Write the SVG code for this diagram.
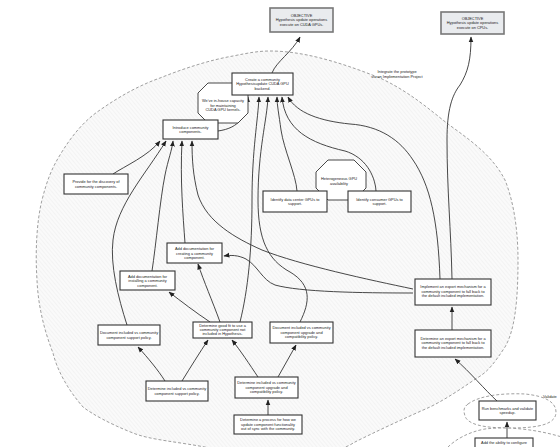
<svg xmlns="http://www.w3.org/2000/svg" width="560" height="447" viewBox="0 0 560 447">
<defs>
<pattern id="hatch" width="3" height="3" patternUnits="userSpaceOnUse" patternTransform="rotate(-40)">
<rect width="3" height="3" fill="#fafafa"/>
<line x1="0" y1="0" x2="0" y2="3" stroke="#e2e2e2" stroke-width="0.6"/>
</pattern>
<marker id="ah" markerUnits="userSpaceOnUse" markerWidth="6" markerHeight="6" viewBox="0 0 10 10" refX="9" refY="5" orient="auto">
<path d="M0,1 L10,5 L0,9 Z" fill="#222"/>
</marker>
</defs>
<style>
.blob{stroke:#777;stroke-width:0.7;stroke-dasharray:3 2}
.c{fill:none;stroke:#333;stroke-width:0.9;marker-end:url(#ah)}
.box{fill:#fff;stroke:#333;stroke-width:1.1}
.obj{fill:#e9ebee;stroke:#777;stroke-width:1.6}
.oct{fill:#fff;stroke:#333;stroke-width:0.9}
text{font-family:"Liberation Sans",Arial,sans-serif;font-size:3.9px;fill:#222;text-anchor:middle}
.lbl{font-size:3.9px}
</style>
<rect width="560" height="447" fill="#fff"/>
<g id="groups">
<path class="blob" fill="url(#hatch)" d="M270,51 C300,51 335,60 380,78 C410,92 430,110 448,124 C470,140 492,155 505,180 C515,205 518,235 518,260 C518,300 515,330 505,347 C495,362 488,372 477,378 C462,388 448,398 430,407 C405,418 375,432 355,442 C330,458 280,465 210,448 C180,442 150,440 133,433 C110,424 92,414 83,407 C68,390 57,370 53,353 C44,330 38,305 37,280 C35,250 37,220 42,200 C47,180 52,168 60,155 C72,135 85,120 100,110 C120,96 140,85 160,78 C185,68 210,60 233,56 C248,53 258,51 270,51 Z"/>
<path class="blob" fill="#fff" d="M468,404 C480,395 505,393 525,394 C545,396 556,402 556,412 C556,424 540,428 510,428 C485,428 468,425 465,416 C463,410 464,407 468,404 Z"/>
<path class="blob" fill="#fff" d="M448,447 C455,440 468,432 485,429 C510,426 540,430 565,438 L565,450 L446,450 Z"/>
<text x="397" y="73" class="lbl">Integrate the prototype</text>
<text x="397" y="78" class="lbl">via an Implementation Project</text>
<text x="543" y="397.5" style="text-anchor:start">Validate</text>
</g>
<g id="connectors">
<path class="c" d="M272,73 C276,62 292,52 300,37"/>
<path class="c" d="M452,279 C451,230 447,190 447,140 C447,110 452,95 460,85 C468,72 471,60 471,37"/>
<path class="c" d="M440,279 C438,220 430,185 413,160 C400,140 380,126 350,124 C320,121 297,113 288,97"/>
<path class="c" d="M376,191 C375,175 365,157 345,151 C310,143 285,130 282,97"/>
<path class="c" d="M297,191 C296,175 284,150 281,130 C279,115 277,105 277,97"/>
<path class="c" d="M240,322 C248,290 252,250 252,200 C252,150 258,120 259,97"/>
<path class="c" d="M300,322 C310,302 312,285 290,272 C268,260 258,240 258,200 C258,150 267,120 268,97"/>
<path class="c" d="M218,131 C240,128 247,115 248,97"/>
<path class="c" d="M113,174 C125,166 148,156 160,141"/>
<path class="c" d="M127,325 C118,297 110,265 113,240 C117,205 145,175 166,141"/>
<path class="c" d="M152,271 C156,245 160,200 165,175 C168,160 172,150 173,141"/>
<path class="c" d="M185,243 C183,215 180,180 182,141"/>
<path class="c" d="M413,289 C370,280 300,265 262,250 C235,238 207,222 198,195 C193,175 192,160 192,141"/>
<path class="c" d="M413,293 C360,293 300,292 275,285 C262,280 258,266 246,259 C238,255 231,255 224,256"/>
<path class="c" d="M210,322 C195,312 182,302 169,292"/>
<path class="c" d="M220,322 C212,300 204,282 198,264"/>
<path class="c" d="M165,381 C158,370 148,358 138,347"/>
<path class="c" d="M182,381 C190,368 200,352 208,340"/>
<path class="c" d="M258,377 C250,365 240,350 232,340"/>
<path class="c" d="M278,377 C284,366 290,356 296,345"/>
<path class="c" d="M268,415 L268,400"/>
<path class="c" d="M452,330 L452,307"/>
<path class="c" d="M497,401 C485,390 470,372 455,359"/>
<path class="c" d="M507,438 L507,422"/>
</g>
<g id="A"><rect class="obj" x="270" y="8" width="63" height="24"/><text x="301.5" y="16.5">OBJECTIVE</text><text x="301.5" y="21">Hypothesis update operations</text><text x="301.5" y="25.5">execute on CUDA GPUs.</text></g>
<g id="B"><rect class="obj" x="441" y="12" width="63" height="22"/><text x="472.5" y="19.5">OBJECTIVE</text><text x="472.5" y="24">Hypothesis update operations</text><text x="472.5" y="28.5">execute on CPUs.</text></g>
<g id="D"><path class="oct" d="M208,83 L238,83 L248,93 L248,113 L238,123 L208,123 L198,113 L198,93 Z"/><text x="223" y="102">We've in-house capacity</text><text x="223" y="106.5">for maintaining</text><text x="223" y="111">CUDA GPU kernels.</text></g>
<g id="C"><rect class="box" x="232" y="73" width="61" height="22"/><text x="262.5" y="80.5">Create a community</text><text x="262.5" y="85">Hypothesisupdate CUDA GPU</text><text x="262.5" y="89.5">backend.</text></g>
<g id="E"><rect class="box" x="163" y="120" width="55" height="19"/><text x="190.5" y="128.5">Introduce community</text><text x="190.5" y="133">components.</text></g>
<g id="F"><rect class="box" x="64" y="174" width="64" height="20"/><text x="96" y="183">Provide for the discovery of</text><text x="96" y="187.5">community components.</text></g>
<g id="G"><path class="oct" d="M328,160 L354,160 L366,172 L366,188 L354,200 L328,200 L316,188 L316,172 Z"/><text x="339" y="180">Heterogeneous GPU</text><text x="339" y="184.5">availability</text></g>
<g id="H"><rect class="box" x="263" y="191" width="64" height="21"/><text x="295" y="200.5">Identify data center GPUs to</text><text x="295" y="205">support.</text></g>
<g id="I"><rect class="box" x="348" y="191" width="63" height="21"/><text x="379.5" y="200.5">Identify consumer GPUs to</text><text x="379.5" y="205">support.</text></g>
<g id="J"><rect class="box" x="167" y="243" width="55" height="20"/><text x="194.5" y="250">Add documentation for</text><text x="194.5" y="254.5">creating a community</text><text x="194.5" y="259">component.</text></g>
<g id="K"><rect class="box" x="120" y="271" width="55" height="19"/><text x="147.5" y="277.5">Add documentation for</text><text x="147.5" y="282">installing a community</text><text x="147.5" y="286.5">component.</text></g>
<g id="L"><rect class="box" x="98" y="325" width="62" height="20"/><text x="129" y="334">Document included vs community</text><text x="129" y="338.5">component support policy.</text></g>
<g id="M"><rect class="box" x="193" y="322" width="59" height="16"/><text x="222.5" y="327">Determine good fit to use a</text><text x="222.5" y="331.2">community component not</text><text x="222.5" y="335.4">included in Hypothesis.</text></g>
<g id="N"><rect class="box" x="270" y="322" width="63" height="21"/><text x="301.5" y="329">Document included vs community</text><text x="301.5" y="333.5">component upgrade and</text><text x="301.5" y="338">compatibility policy.</text></g>
<g id="O"><rect class="box" x="146" y="381" width="62" height="20"/><text x="177" y="390">Determine included vs community</text><text x="177" y="394.5">component support policy.</text></g>
<g id="P"><rect class="box" x="235" y="377" width="63" height="21"/><text x="266.5" y="384">Determine included vs community</text><text x="266.5" y="388.5">component upgrade and</text><text x="266.5" y="393">compatibility policy.</text></g>
<g id="Q"><rect class="box" x="234" y="415" width="68" height="19"/><text x="268" y="421">Determine a process for how we</text><text x="268" y="425.5">update component functionality</text><text x="268" y="430">out of sync with the community.</text></g>
<g id="R"><rect class="box" x="415" y="279" width="76" height="26"/><text x="453" y="288">Implement an export mechanism for a</text><text x="453" y="292.5">community component to fall back to</text><text x="453" y="297">the default included implementation.</text></g>
<g id="S"><rect class="box" x="415" y="330" width="76" height="27"/><text x="453" y="339.5">Determine an export mechanism for a</text><text x="453" y="344">community component to fall back to</text><text x="453" y="348.5">the default included implementation.</text></g>
<g id="T"><rect class="box" x="479" y="401" width="57" height="19"/><text x="507.5" y="409.5">Run benchmarks and validate</text><text x="507.5" y="414">speedup.</text></g>
<g id="U"><rect class="box" x="475" y="438" width="58" height="14"/><text x="504" y="443.5">Add the ability to configure</text></g>
</svg>
